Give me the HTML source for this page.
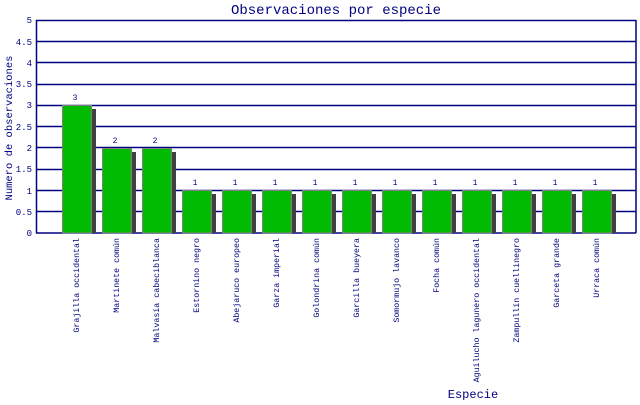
<!DOCTYPE html>
<html><head><meta charset="utf-8"><style>
body{margin:0;background:#fff}
svg text{font-family:"Liberation Mono","DejaVu Sans Mono",monospace;fill:#000080}
</style></head><body>
<svg width="640" height="400" xmlns="http://www.w3.org/2000/svg">
<rect width="640" height="400" fill="#fff"/>
<text x="336" y="14" font-size="14" text-anchor="middle">Observaciones por especie</text>
<g stroke="#000080" stroke-width="1.5">
<line x1="36" y1="20.5" x2="636" y2="20.5"/>
<line x1="36" y1="41.5" x2="636" y2="41.5"/>
<line x1="36" y1="62.5" x2="636" y2="62.5"/>
<line x1="36" y1="84.5" x2="636" y2="84.5"/>
<line x1="36" y1="105.5" x2="636" y2="105.5"/>
<line x1="36" y1="126.5" x2="636" y2="126.5"/>
<line x1="36" y1="147.5" x2="636" y2="147.5"/>
<line x1="36" y1="169.5" x2="636" y2="169.5"/>
<line x1="36" y1="190.5" x2="636" y2="190.5"/>
<line x1="36" y1="211.5" x2="636" y2="211.5"/>
<line x1="36" y1="233" x2="636" y2="233"/>
<line x1="36.5" y1="20" x2="36.5" y2="233"/>
<line x1="636" y1="20" x2="636" y2="233"/>
</g>
<g font-size="9" text-anchor="end">
<text x="32" y="23">5</text><text x="32" y="45">4.5</text><text x="32" y="66">4</text><text x="32" y="87">3.5</text><text x="32" y="108">3</text><text x="32" y="130">2.5</text><text x="32" y="151">2</text><text x="32" y="172">1.5</text><text x="32" y="194">1</text><text x="32" y="215">0.5</text><text x="32" y="236">0</text>
</g>
<text transform="translate(12,128) rotate(-90)" font-size="10.5" text-anchor="middle">Numero de observaciones</text>
<text x="473" y="398" font-size="12" text-anchor="middle">Especie</text>

<g fill="#404040">
<rect x="92" y="109" width="4" height="124"/>
<rect x="132" y="152" width="4" height="81"/>
<rect x="172" y="152" width="4" height="81"/>
<rect x="212" y="194" width="4" height="39"/>
<rect x="252" y="194" width="4" height="39"/>
<rect x="292" y="194" width="4" height="39"/>
<rect x="332" y="194" width="4" height="39"/>
<rect x="372" y="194" width="4" height="39"/>
<rect x="412" y="194" width="4" height="39"/>
<rect x="452" y="194" width="4" height="39"/>
<rect x="492" y="194" width="4" height="39"/>
<rect x="532" y="194" width="4" height="39"/>
<rect x="572" y="194" width="4" height="39"/>
<rect x="612" y="194" width="4" height="39"/>
</g>
<g fill="#00bb00" stroke="#808080" stroke-width="1">
<rect x="62.5" y="105.5" width="29" height="127.5"/>
<rect x="102.5" y="148.5" width="29" height="84.5"/>
<rect x="142.5" y="148.5" width="29" height="84.5"/>
<rect x="182.5" y="190.5" width="29" height="42.5"/>
<rect x="222.5" y="190.5" width="29" height="42.5"/>
<rect x="262.5" y="190.5" width="29" height="42.5"/>
<rect x="302.5" y="190.5" width="29" height="42.5"/>
<rect x="342.5" y="190.5" width="29" height="42.5"/>
<rect x="382.5" y="190.5" width="29" height="42.5"/>
<rect x="422.5" y="190.5" width="29" height="42.5"/>
<rect x="462.5" y="190.5" width="29" height="42.5"/>
<rect x="502.5" y="190.5" width="29" height="42.5"/>
<rect x="542.5" y="190.5" width="29" height="42.5"/>
<rect x="582.5" y="190.5" width="29" height="42.5"/>
</g>
<g font-size="8" text-anchor="middle">
<text x="75" y="100">3</text><text x="115" y="143">2</text><text x="155" y="143">2</text>
<text x="195" y="185">1</text><text x="235" y="185">1</text><text x="275" y="185">1</text><text x="315" y="185">1</text><text x="355" y="185">1</text><text x="395" y="185">1</text><text x="435" y="185">1</text><text x="475" y="185">1</text><text x="515" y="185">1</text><text x="555" y="185">1</text><text x="595" y="185">1</text>
</g>
<g font-size="8.3" text-anchor="end">
<text transform="translate(79,238) rotate(-90)">Grajilla occidental</text>
<text transform="translate(119,238) rotate(-90)">Martinete común</text>
<text transform="translate(159,238) rotate(-90)">Malvasía cabeciblanca</text>
<text transform="translate(199,238) rotate(-90)">Estornino negro</text>
<text transform="translate(239,238) rotate(-90)">Abejaruco europeo</text>
<text transform="translate(279,238) rotate(-90)">Garza imperial</text>
<text transform="translate(319,238) rotate(-90)">Golondrina común</text>
<text transform="translate(359,238) rotate(-90)">Garcilla bueyera</text>
<text transform="translate(399,238) rotate(-90)">Somormujo lavanco</text>
<text transform="translate(439,238) rotate(-90)">Focha común</text>
<text transform="translate(479,238) rotate(-90)">Aguilucho lagunero occidental</text>
<text transform="translate(519,238) rotate(-90)">Zampullín cuellinegro</text>
<text transform="translate(559,238) rotate(-90)">Garceta grande</text>
<text transform="translate(599,238) rotate(-90)">Urraca común</text>
</g>
</svg>
</body></html>
